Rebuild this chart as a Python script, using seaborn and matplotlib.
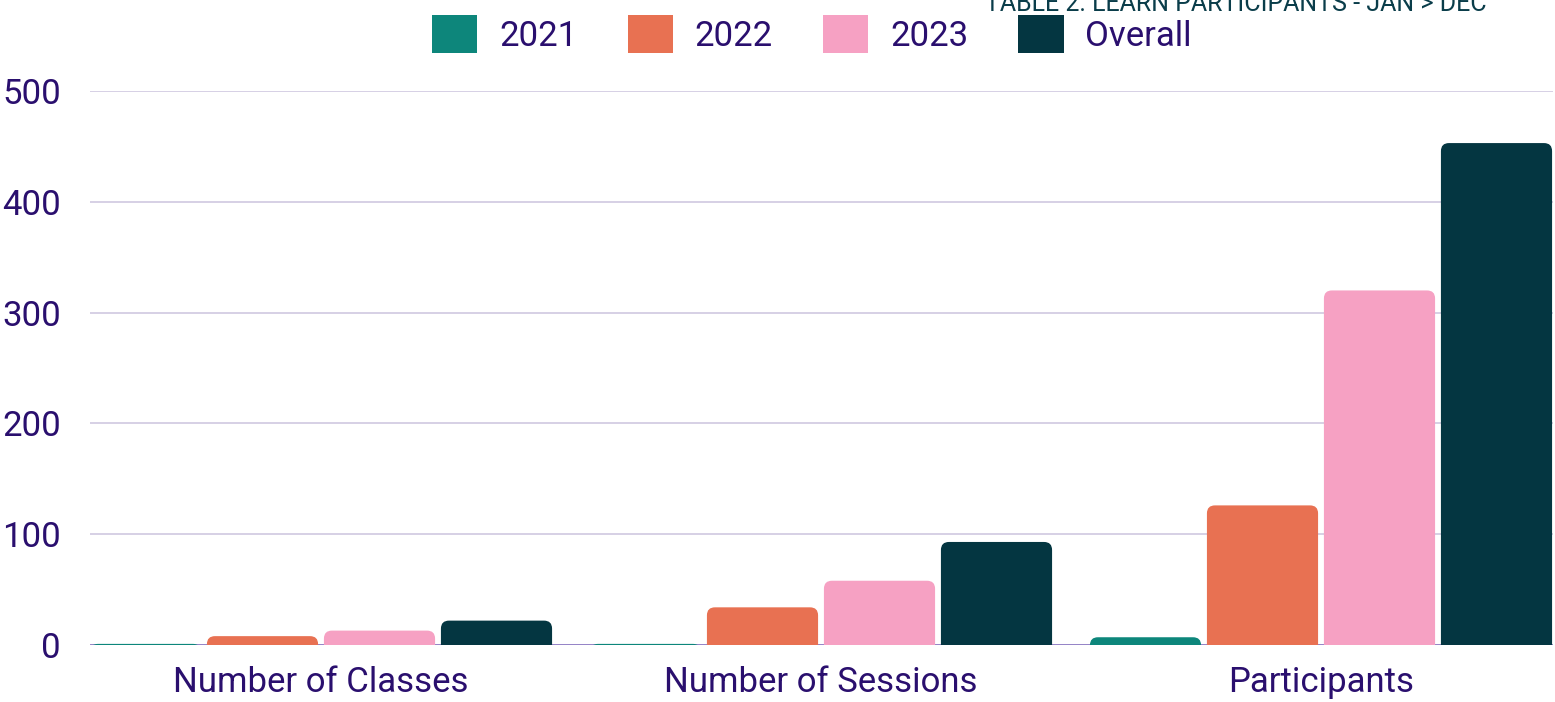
import pandas as pd
import matplotlib
matplotlib.use("Agg")
import matplotlib.pyplot as plt
import seaborn as sns
from matplotlib.patches import FancyBboxPatch

# chart data
metrics = ["Number of Classes", "Number of Sessions", "Participants"]
years = ["2021", "2022", "2023", "Overall"]
values_2021 = [1, 1, 7]
values_2022 = [8, 34, 126]
values_2023 = [13, 58, 320]
values_overall = [22, 93, 453]
y_ticks = [0, 100, 200, 300, 400, 500]
title = "TABLE 2. LEARN PARTICIPANTS - JAN > DEC"

colors = ["#0d867b", "#e87152", "#f6a1c3", "#043641"]
text_color = "#2a0f6e"


def build_frame() -> pd.DataFrame:
	rows = []
	for year, vals in zip(years, [values_2021, values_2022, values_2023, values_overall]):
		for metric, v in zip(metrics, vals):
			rows.append({"metric": metric, "year": year, "value": v})
	return pd.DataFrame(rows)


def round_bar_tops(ax, radius_px: float) -> None:
	# swap the square bars for ones with rounded top corners
	fig = ax.figure
	fig.canvas.draw()
	x0, y0 = ax.transData.transform((0, 0))
	x1, y1 = ax.transData.transform((1, 1))
	px_x = x1 - x0
	px_y = y1 - y0
	r = radius_px / px_x
	extra = radius_px / px_y
	for bar in list(ax.patches):
		w = bar.get_width()
		h = bar.get_height()
		if w <= 0 or h <= 0:
			continue
		rounded = FancyBboxPatch(
			(bar.get_x(), -extra), w, h + extra,
			boxstyle=f"round,pad=0,rounding_size={r}",
			mutation_aspect=px_x / px_y,
			facecolor=bar.get_facecolor(), edgecolor="none",
			zorder=2, clip_on=True
		)
		bar.set_visible(False)
		ax.add_patch(rounded)


def main():
	sns.set_theme(style="white")
	plt.rcParams["font.family"] = ["Roboto", "DejaVu Sans"]
	df = build_frame()

	fig = plt.figure(figsize=(15.55, 7.02), dpi=100)
	ax = fig.add_axes([90 / 1555, 57 / 702, 1463 / 1555, 554 / 702])
	sns.barplot(
		data=df, x="metric", y="value", hue="year",
		palette=colors, width=0.936, gap=0.05, ax=ax,
		saturation=1, linewidth=0, legend=True
	)
	ax.set_xlim(-0.462, 2.464)
	ax.set_ylim(0, 500)
	ax.set_yticks(y_ticks)
	ax.yaxis.grid(True, color="#cfc8e0", linewidth=1.2, zorder=0)
	ax.set_axisbelow(True)
	for s in ["top", "right", "left", "bottom"]:
		ax.spines[s].set_visible(False)
	ax.axhline(0, color="#8f7cc4", linewidth=2, zorder=1)
	ax.tick_params(axis="both", length=0, labelsize=25, labelcolor=text_color)
	ax.tick_params(axis="y", pad=21)
	ax.tick_params(axis="x", pad=15)
	ax.set_xlabel("")
	ax.set_ylabel("")

	handles, labels = ax.get_legend_handles_labels()
	ax.legend(
		handles, labels, loc="center", bbox_to_anchor=(812 / 1555, 1 - 34 / 702),
		bbox_transform=fig.transFigure, ncol=4, frameon=False,
		fontsize=25, labelcolor=text_color, handlelength=1.3, handleheight=1.3,
		handletextpad=0.63, columnspacing=1.45
	)
	round_bar_tops(ax, 8)
	fig.text(1487 / 1555, 1 - 11 / 702, title, ha="right", va="baseline",
		fontsize=18, color="#0a3d4a")
	fig.savefig("out.png", dpi=100)
	plt.close(fig)


if __name__ == "__main__":
	main()
